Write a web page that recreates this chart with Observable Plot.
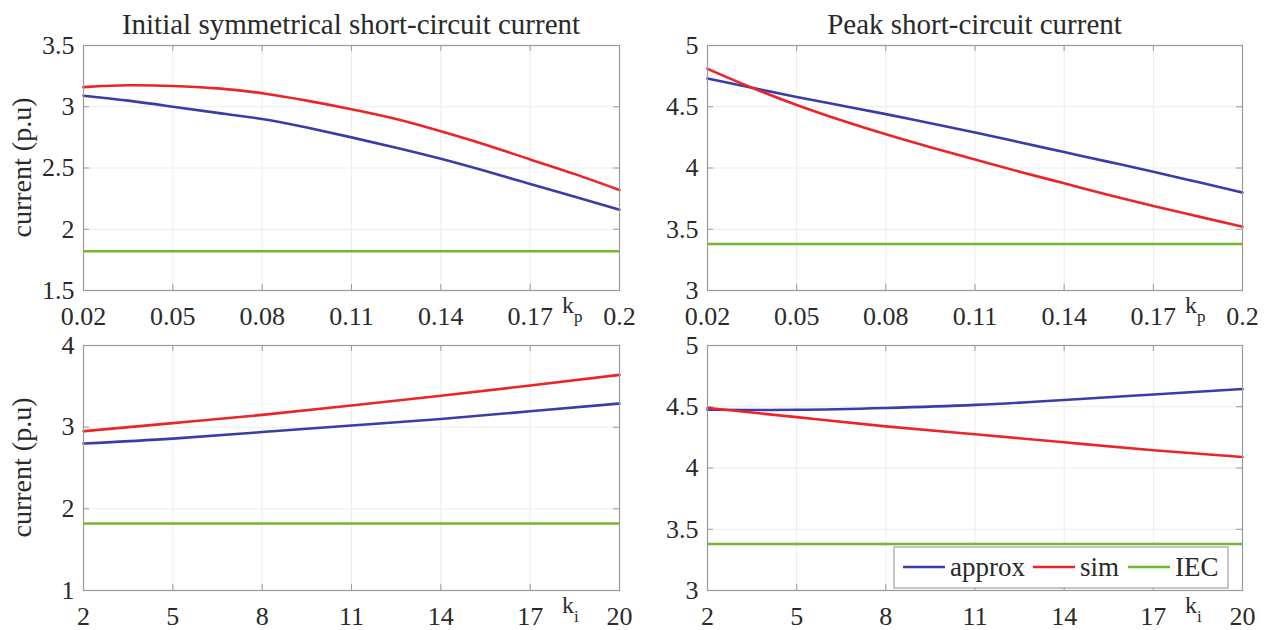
<!DOCTYPE html>
<html>
<head>
<meta charset="utf-8">
<script src="https://cdn.jsdelivr.net/npm/d3@7"></script>
<script src="https://cdn.jsdelivr.net/npm/@observablehq/plot@0.6"></script>
<style>
  html, body { margin: 0; padding: 0; background: #fff; }
  #fig { position: relative; width: 1270px; height: 630px; overflow: hidden; background: #fff; }
  #fig svg { position: absolute; overflow: visible; }
  #fig svg text { font-family: "Liberation Serif", "Times New Roman", "DejaVu Serif", serif; }
</style>
</head>
<body>
<div id="fig"></div>
<script>
// Proportional gain sweep (k_p) and integral gain sweep (k_i)
const kp = [0.02, 0.035, 0.05, 0.065, 0.08, 0.095, 0.11, 0.125, 0.14, 0.155, 0.17, 0.185, 0.2];
const ki = [2, 5, 8, 11, 14, 17, 20];

const kpTicks = [0.02, 0.05, 0.08, 0.11, 0.14, 0.17, 0.2];
const kiTicks = [2, 5, 8, 11, 14, 17, 20];
const initialTicksTop = [1.5, 2, 2.5, 3, 3.5];
const initialTicksBottom = [1, 2, 3, 4];
const peakTicks = [3, 3.5, 4, 4.5, 5];

const seriesNames = ["approx", "sim", "IEC"];
const seriesColors = ["#3b3ca8", "#ec2329", "#76b52e"];

// Initial symmetrical short-circuit current vs k_p
const initKpApprox = [3.09, 3.05, 3.00, 2.95, 2.90, 2.83, 2.75, 2.665, 2.575, 2.475, 2.37, 2.265, 2.16];
const initKpSim    = [3.16, 3.175, 3.17, 3.15, 3.11, 3.05, 2.98, 2.90, 2.80, 2.69, 2.57, 2.45, 2.32];
// Peak short-circuit current vs k_p
const peakKpApprox = [4.73, 4.655, 4.58, 4.51, 4.44, 4.365, 4.29, 4.21, 4.13, 4.05, 3.97, 3.885, 3.80];
const peakKpSim    = [4.81, 4.655, 4.515, 4.39, 4.275, 4.17, 4.07, 3.97, 3.875, 3.78, 3.69, 3.605, 3.52];
// Initial symmetrical short-circuit current vs k_i
const initKiApprox = [2.80, 2.86, 2.94, 3.02, 3.10, 3.195, 3.29];
const initKiSim    = [2.95, 3.05, 3.15, 3.265, 3.385, 3.51, 3.64];
// Peak short-circuit current vs k_i
const peakKiApprox = [4.475, 4.475, 4.49, 4.515, 4.555, 4.60, 4.645];
const peakKiSim    = [4.49, 4.415, 4.34, 4.275, 4.21, 4.145, 4.09];
// IEC 60909 reference values (independent of controller gains)
const iecInitial = 1.82;
const iecPeak = 3.38;

const FONT = "'Liberation Serif', 'Times New Roman', 'DejaVu Serif', serif";
const FRAME = "#9a9a9a";
const GRID = "#ececec";
const TEXT = "#2a2a2a";
const LW = 2.6;

const fig = document.getElementById("fig");

function panel(o) {
  const innerW = o.width - o.ml - o.mr;
  const innerH = o.height - o.mt - o.mb;
  const approx = o.x.map((x, i) => ({x, y: o.approx[i]}));
  const sim = o.x.map((x, i) => ({x, y: o.sim[i]}));
  const svg = Plot.plot({
    width: o.width,
    height: o.height,
    marginLeft: o.ml, marginRight: o.mr, marginTop: o.mt, marginBottom: o.mb,
    style: {background: "none", overflow: "visible", fontFamily: FONT, fontSize: "26px", color: TEXT},
    x: {domain: [o.xTicks[0], o.xTicks[o.xTicks.length - 1]], ticks: o.xTicks, tickFormat: d => String(d),
        tickSize: 0, tickPadding: 16, label: null},
    y: {domain: [o.yTicks[0], o.yTicks[o.yTicks.length - 1]], ticks: o.yTicks, tickFormat: d => String(d),
        tickSize: 0, tickPadding: 9, label: null},
    marks: [
      Plot.ruleX(o.xTicks, {stroke: GRID}),
      Plot.ruleY(o.yTicks, {stroke: GRID}),
      // inward tick marks on all four sides
      Plot.ruleX(o.xTicks, {stroke: FRAME, insetTop: innerH - 6}),
      Plot.ruleX(o.xTicks, {stroke: FRAME, insetBottom: innerH - 6}),
      Plot.ruleY(o.yTicks, {stroke: FRAME, insetRight: innerW - 6}),
      Plot.ruleY(o.yTicks, {stroke: FRAME, insetLeft: innerW - 6}),
      Plot.ruleY([o.iec], {stroke: seriesColors[2], strokeWidth: LW}),
      Plot.line(approx, {x: "x", y: "y", stroke: seriesColors[0], strokeWidth: LW, curve: "natural"}),
      Plot.line(sim, {x: "x", y: "y", stroke: seriesColors[1], strokeWidth: LW, curve: "natural"}),
      Plot.frame({stroke: FRAME, strokeWidth: 1.2})
    ]
  });
  svg.style.left = o.left + "px";
  svg.style.top = o.top + "px";
  fig.appendChild(svg);

  const s = d3.select(svg);
  if (o.title) {
    s.append("text")
      .attr("x", o.ml + innerW / 2).attr("y", 34)
      .attr("text-anchor", "middle")
      .attr("font-size", 29).attr("fill", TEXT)
      .text(o.title);
  }
  if (o.ylabel) {
    s.append("text")
      .attr("transform", `translate(31,${o.mt + innerH / 2}) rotate(-90)`)
      .attr("text-anchor", "middle")
      .attr("font-size", 28).attr("fill", TEXT)
      .text(o.ylabel);
  }
  // gain symbol with subscript next to the last x tick
  const k = s.append("text")
    .attr("x", o.ml + innerW - 57).attr("y", o.mt + innerH + 23)
    .attr("text-anchor", "start")
    .attr("font-size", 24).attr("fill", TEXT)
    .text("k");
  k.append("tspan").attr("dy", 9).attr("font-size", 17).text(o.sub);

  if (o.legend) {
    const g = s.append("g").attr("font-size", 27).attr("fill", TEXT).attr("text-anchor", "start");
    g.append("rect").attr("x", 264).attr("y", 217).attr("width", 334).attr("height", 41)
      .attr("fill", "#fff").attr("stroke", "#a0a0a0").attr("stroke-width", 1.2);
    const lineX = [273, 403, 498];
    seriesNames.forEach((name, i) => {
      g.append("line").attr("x1", lineX[i]).attr("x2", lineX[i] + 42).attr("y1", 237).attr("y2", 237)
        .attr("stroke", seriesColors[i]).attr("stroke-width", LW);
      g.append("text").attr("x", lineX[i] + 47).attr("y", 246).text(name);
    });
  }
}

panel({left: 0, top: 0, width: 640, height: 330, ml: 83, mr: 21, mt: 45, mb: 40,
       x: kp, xTicks: kpTicks, yTicks: initialTicksTop, approx: initKpApprox, sim: initKpSim, iec: iecInitial,
       title: "Initial symmetrical short-circuit current", ylabel: "current (p.u)", sub: "p"});
panel({left: 630, top: 0, width: 640, height: 330, ml: 77, mr: 28, mt: 45, mb: 40,
       x: kp, xTicks: kpTicks, yTicks: peakTicks, approx: peakKpApprox, sim: peakKpSim, iec: iecPeak,
       title: "Peak short-circuit current", sub: "p"});
panel({left: 0, top: 330, width: 640, height: 300, ml: 83, mr: 21, mt: 15, mb: 40,
       x: ki, xTicks: kiTicks, yTicks: initialTicksBottom, approx: initKiApprox, sim: initKiSim, iec: iecInitial,
       ylabel: "current (p.u)", sub: "i"});
panel({left: 630, top: 330, width: 640, height: 300, ml: 77, mr: 28, mt: 15, mb: 40,
       x: ki, xTicks: kiTicks, yTicks: peakTicks, approx: peakKiApprox, sim: peakKiSim, iec: iecPeak,
       sub: "i", legend: true});
</script>
</body>
</html>
